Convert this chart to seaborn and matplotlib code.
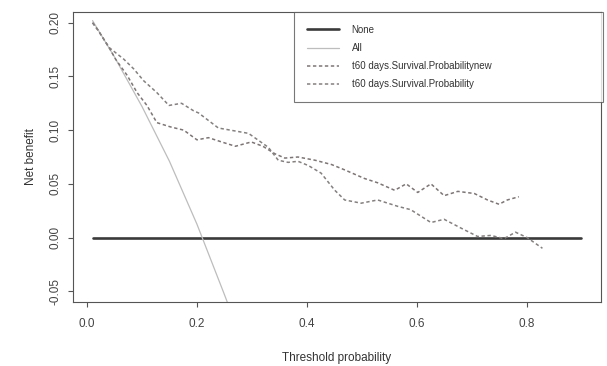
import matplotlib
matplotlib.use("Agg")
import matplotlib.pyplot as plt
import seaborn as sns
import pandas as pd

# ---- data ----
none_x = [0.01, 0.90]
none_y = [0.0, 0.0]

all_x = [0.01, 0.05, 0.10, 0.15, 0.20, 0.25, 0.27]
all_y = [0.202, 0.168, 0.122, 0.071, 0.0125, -0.053, -0.080]

new_x = [0.01, 0.02, 0.04, 0.052, 0.073, 0.091, 0.109, 0.127, 0.152, 0.176, 0.200,
         0.221, 0.245, 0.270, 0.299, 0.320, 0.342, 0.360, 0.384, 0.415, 0.445,
         0.469, 0.505, 0.529, 0.560, 0.581, 0.602, 0.626, 0.650, 0.675, 0.705,
         0.729, 0.750, 0.765, 0.786]
new_y = [0.200, 0.193, 0.177, 0.166, 0.151, 0.135, 0.123, 0.107, 0.103, 0.100, 0.091,
         0.093, 0.089, 0.085, 0.089, 0.085, 0.078, 0.074, 0.075, 0.072, 0.068,
         0.063, 0.055, 0.051, 0.044, 0.050, 0.042, 0.050, 0.039, 0.043, 0.041,
         0.035, 0.031, 0.035, 0.038]

old_x = [0.01, 0.02, 0.04, 0.067, 0.085, 0.103, 0.127, 0.149, 0.172, 0.194, 0.203,
         0.239, 0.294, 0.330, 0.348, 0.366, 0.384, 0.403, 0.426, 0.451, 0.469,
         0.499, 0.529, 0.566, 0.589, 0.626, 0.650, 0.680, 0.711, 0.735, 0.759,
         0.780, 0.801, 0.829]
old_y = [0.200, 0.193, 0.177, 0.166, 0.157, 0.146, 0.135, 0.123, 0.125, 0.118, 0.116,
         0.102, 0.097, 0.084, 0.072, 0.070, 0.071, 0.067, 0.060, 0.044, 0.035,
         0.032, 0.035, 0.029, 0.026, 0.014, 0.017, 0.009, 0.001, 0.002, -0.001,
         0.005, 0.000, -0.010]

labels = ["None", "All", "t60 days.Survival.Probabilitynew", "t60 days.Survival.Probability"]
x_ticks = [0.0, 0.2, 0.4, 0.6, 0.8]
y_ticks = [-0.05, 0.00, 0.05, 0.10, 0.15, 0.20]

sns.set_theme(style="ticks")
plt.rcParams['font.family'] = ['Liberation Sans', 'DejaVu Sans']

fig = plt.figure(figsize=(6.07, 3.66), dpi=100)
ax = fig.add_axes([73/607, 1 - 302/366, 528/607, 290/366])

sns.lineplot(x=none_x, y=none_y, ax=ax, color="#3a3a3a", linewidth=1.9, label=labels[0])
sns.lineplot(x=all_x, y=all_y, ax=ax, color="#bdbdbd", linewidth=0.9, label=labels[1])
sns.lineplot(x=new_x, y=new_y, ax=ax, color="#7d7575", linewidth=1.1, label=labels[2],
             sort=False, dashes=False, linestyle=(0, (2.2, 1.7)))
sns.lineplot(x=old_x, y=old_y, ax=ax, color="#858080", linewidth=1.1, label=labels[3],
             sort=False, dashes=False, linestyle=(0, (2.2, 1.7)))

ax.set_xlim(-0.0256, 0.9356)
ax.set_ylim(-0.06, 0.21)
ax.set_xticks(x_ticks)
ax.set_xticklabels(["0.0", "0.2", "0.4", "0.6", "0.8"])
ax.set_yticks(y_ticks)
ax.set_yticklabels(["-0.05", "0.00", "0.05", "0.10", "0.15", "0.20"], rotation=90, va="center")

for s in ax.spines.values():
    s.set_visible(True)
    s.set_color("#555555")
    s.set_linewidth(0.8)

ax.tick_params(axis="x", length=3.5, width=0.8, color="#555555",
               labelsize=8.5, labelcolor="#444444", pad=8)
ax.tick_params(axis="y", length=3.5, width=0.8, color="#555555",
               labelsize=8.5, labelcolor="#444444", pad=5)
ax.set_xlabel("Threshold probability", fontsize=8.5, color="#333333", labelpad=16)
ax.set_ylabel("Net benefit", fontsize=8.5, color="#333333", labelpad=9)

leg = ax.legend(loc="upper left", bbox_to_anchor=(0.419, 1.0, 0.585, 0.0), mode="expand",
                fontsize=7, frameon=True, fancybox=False, edgecolor="#555555",
                borderpad=1.3, labelspacing=0.85, handlelength=3.3, handletextpad=1.3,
                borderaxespad=0.0)
leg.get_frame().set_linewidth(0.8)
for t in leg.get_texts():
    t.set_color("#333333")

fig.savefig("out.png", dpi=100)
